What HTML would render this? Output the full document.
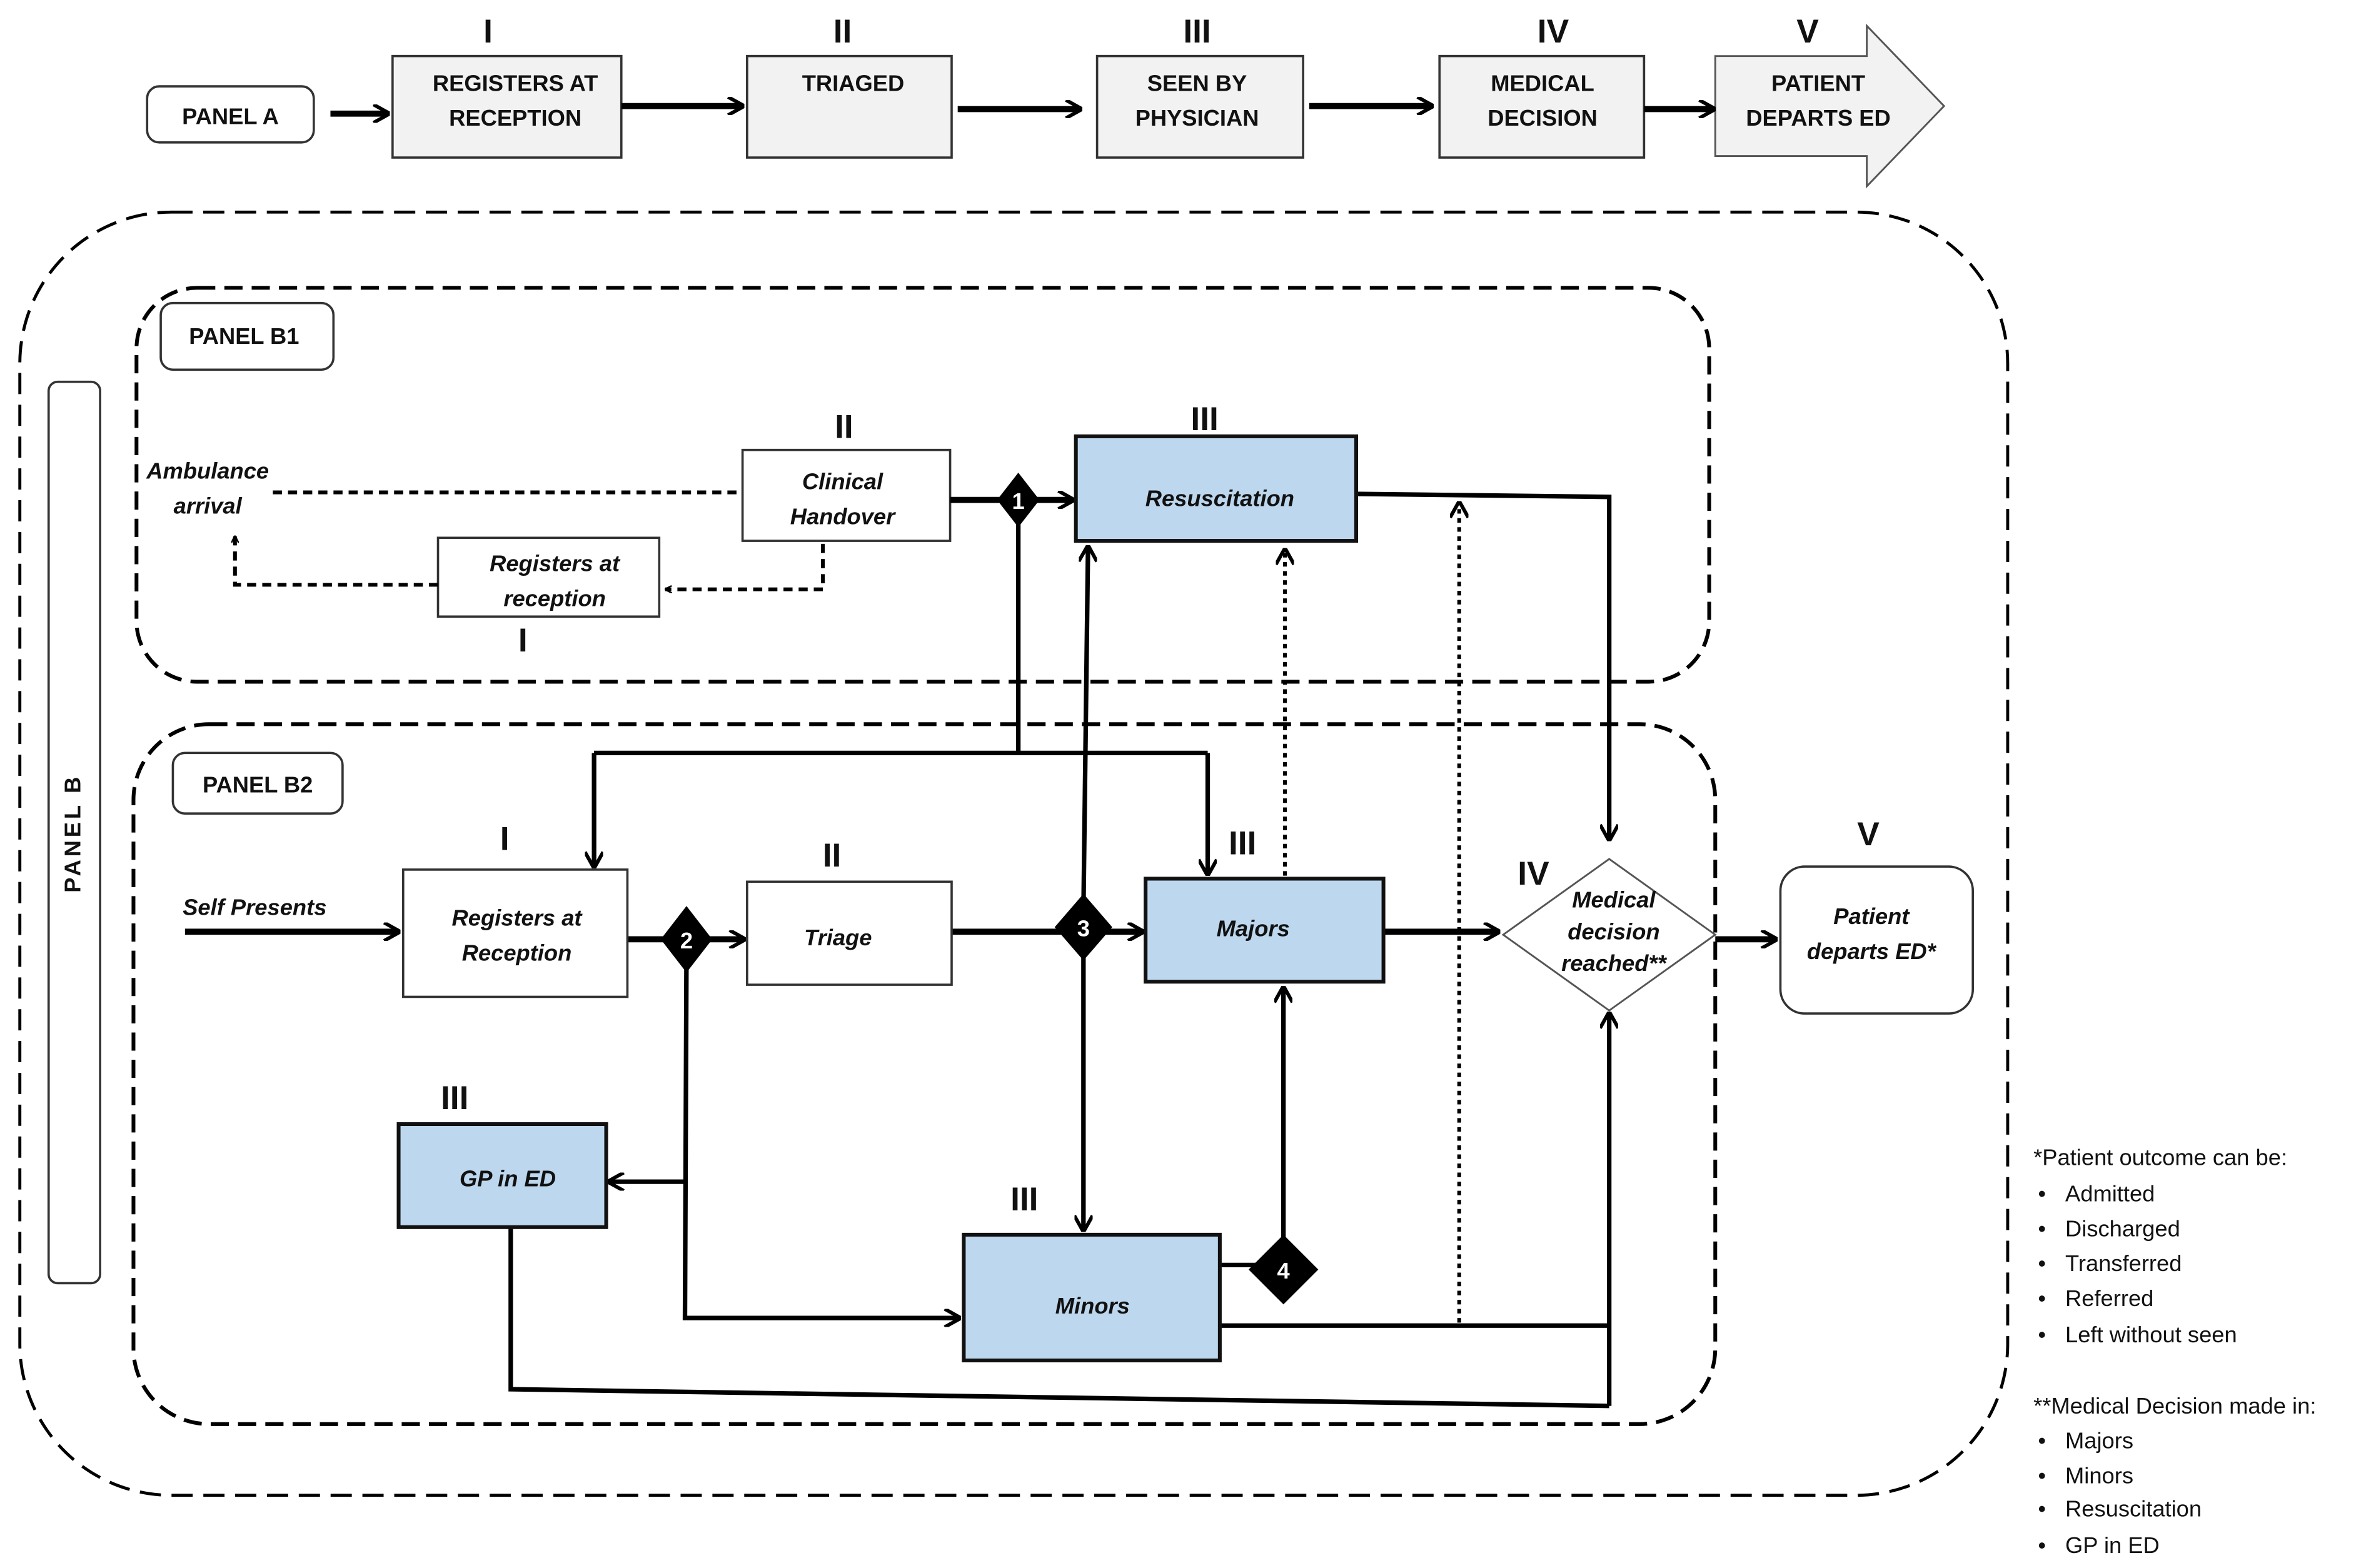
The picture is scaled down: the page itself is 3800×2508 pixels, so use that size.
<!DOCTYPE html>
<html><head><meta charset="utf-8"><style>
html,body{margin:0;padding:0;background:#fff}
svg{display:block}
text{font-family:"Liberation Sans",sans-serif;fill:#111}
.it{font-style:italic;font-weight:bold;font-size:15px}
.rn{font-size:22px;font-weight:bold}
.cap{font-size:15px;font-weight:bold}
</style></head><body>
<svg width="3800" height="2508" viewBox="0 0 1568 1035" xmlns="http://www.w3.org/2000/svg">
<defs>
<marker id="a" viewBox="0 0 10 10" refX="9" refY="5" markerWidth="5" markerHeight="5" orient="auto" markerUnits="userSpaceOnUse"><path d="M0,0 L10,5 L0,10" fill="none" stroke="#000" stroke-width="2"/></marker>
<marker id="b" viewBox="0 0 10 10" refX="9" refY="5" markerWidth="12" markerHeight="12" orient="auto" markerUnits="userSpaceOnUse"><path d="M1,0 L10,5 L1,10" fill="none" stroke="#000" stroke-width="2"/></marker>
</defs>
<rect width="1568" height="1035" fill="#fff"/>
<!-- Panel A -->
<g text-anchor="middle">
<text x="322" y="28" class="rn">I</text><text x="556" y="28" class="rn">II</text><text x="790" y="28" class="rn">III</text><text x="1025" y="28" class="rn">IV</text><text x="1193" y="28" class="rn" font-weight="normal">V</text>
<rect x="97" y="57" width="110" height="37" rx="8" fill="#fff" stroke="#333" stroke-width="1.5"/>
<text x="152" y="82" class="cap">PANEL A</text>
<rect x="259" y="37" width="151" height="67" fill="#f2f2f2" stroke="#333" stroke-width="1.5"/>
<text x="340" y="60" class="cap">REGISTERS  AT</text><text x="340" y="83" class="cap">RECEPTION</text>
<rect x="493" y="37" width="135" height="67" fill="#f2f2f2" stroke="#333" stroke-width="1.5"/>
<text x="563" y="60" class="cap">TRIAGED</text>
<rect x="724" y="37" width="136" height="67" fill="#f2f2f2" stroke="#333" stroke-width="1.5"/>
<text x="790" y="60" class="cap">SEEN BY</text><text x="790" y="83" class="cap">PHYSICIAN</text>
<rect x="950" y="37" width="135" height="67" fill="#f2f2f2" stroke="#333" stroke-width="1.5"/>
<text x="1018" y="60" class="cap">MEDICAL</text><text x="1018" y="83" class="cap">DECISION</text>
<path d="M1132,37 L1232,37 L1232,17 L1283,70 L1232,123 L1232,103 L1132,103 Z" fill="#f2f2f2" stroke="#555" stroke-width="1.2"/>
<text x="1200" y="60" class="cap">PATIENT</text><text x="1200" y="83" class="cap">DEPARTS ED</text>
</g>
<g stroke="#000" stroke-width="4" fill="none" marker-end="url(#b)">
<line x1="218" y1="75" x2="256" y2="75"/><line x1="410" y1="70" x2="490" y2="70"/><line x1="632" y1="72" x2="713" y2="72"/><line x1="864" y1="70" x2="945" y2="70"/><line x1="1085" y1="72" x2="1131" y2="72"/>
</g>
<!-- containers -->
<rect x="13" y="140" width="1312" height="847" rx="100" fill="none" stroke="#000" stroke-width="2" stroke-dasharray="14,7"/>
<rect x="32" y="252" width="34" height="595" rx="6" fill="#fff" stroke="#333" stroke-width="1.5"/>
<text x="0" y="0" transform="translate(53,550) rotate(-90)" text-anchor="middle" font-size="15" font-weight="bold" letter-spacing="2">PANEL B</text>
<rect x="90" y="190" width="1038" height="260" rx="40" fill="none" stroke="#000" stroke-width="2.5" stroke-dasharray="12,6"/>
<rect x="106" y="200" width="114" height="44" rx="8" fill="#fff" stroke="#333" stroke-width="1.5"/>
<text x="161" y="227" text-anchor="middle" class="cap">PANEL B1</text>
<rect x="88" y="478" width="1044" height="462" rx="50" fill="none" stroke="#000" stroke-width="2.5" stroke-dasharray="12,6"/>
<rect x="114" y="497" width="112" height="40" rx="8" fill="#fff" stroke="#333" stroke-width="1.5"/>
<text x="170" y="523" text-anchor="middle" class="cap">PANEL B2</text>
<!-- B1 -->
<g text-anchor="middle">
<text x="137" y="316" class="it">Ambulance</text><text x="137" y="339" class="it">arrival</text>
<text x="557" y="289" class="rn">II</text>
<rect x="490" y="297" width="137" height="60" fill="#fff" stroke="#333" stroke-width="1.5"/>
<text x="556" y="323" class="it">Clinical</text><text x="556" y="346" class="it">Handover</text>
<rect x="289" y="355" width="146" height="52" fill="#fff" stroke="#333" stroke-width="1.5"/>
<text x="366" y="377" class="it">Registers at</text><text x="366" y="400" class="it">reception</text>
<text x="345" y="430" class="rn">I</text>
<text x="795" y="284" class="rn">III</text>
</g>
<g stroke="#000" stroke-width="2.5" fill="none" stroke-dasharray="6,4">
<line x1="180" y1="325" x2="488" y2="325"/>
<polyline points="543,359 543,389 439,389" marker-end="url(#a)"/>
<polyline points="289,386 155,386 155,354" marker-end="url(#a)"/>
</g>
<g stroke="#000" stroke-width="2.5" fill="none" stroke-dasharray="3,3">
<line x1="963" y1="873" x2="963" y2="332" marker-end="url(#b)"/>
<line x1="848" y1="578" x2="848" y2="363" marker-end="url(#b)"/>
</g>
<!-- solid lines -->
<g stroke="#000" stroke-width="3" fill="none">
<line x1="627" y1="330" x2="708" y2="330" stroke-width="4" marker-end="url(#b)"/>
<polyline points="895,326 1062,328 1062,554" marker-end="url(#b)"/>
<polyline points="672,340 672,497"/>
<polyline points="392,497 797,497"/>
<line x1="392" y1="497" x2="392" y2="572" marker-end="url(#b)"/>
<line x1="797" y1="497" x2="797" y2="577" marker-end="url(#b)"/>
<line x1="715" y1="600" x2="718" y2="361" marker-end="url(#b)"/>
<line x1="122" y1="615" x2="263" y2="615" stroke-width="4" marker-end="url(#b)"/>
<line x1="414" y1="620" x2="491" y2="620" stroke-width="4" marker-end="url(#b)"/>
<line x1="628" y1="615" x2="754" y2="615" stroke-width="4" marker-end="url(#b)"/>
<line x1="913" y1="615" x2="989" y2="615" stroke-width="4" marker-end="url(#b)"/>
<line x1="1132" y1="620" x2="1172" y2="620" stroke-width="4" marker-end="url(#b)"/>
<polyline points="453,630 452,870 633,870" marker-end="url(#b)"/>
<line x1="452" y1="780" x2="402" y2="780" marker-end="url(#b)"/>
<line x1="715" y1="620" x2="715" y2="812" marker-end="url(#b)"/>
<line x1="805" y1="835" x2="840" y2="835"/>
<line x1="847" y1="830" x2="847" y2="652" marker-end="url(#b)"/>
<line x1="805" y1="875" x2="1062" y2="875"/>
<polyline points="337,810 337,917 1062,928"/>
<line x1="1062" y1="928" x2="1062" y2="669" marker-end="url(#b)"/>
</g>
<!-- B2 nodes -->
<g text-anchor="middle">
<text x="168" y="604" class="it">Self Presents</text>
<text x="333" y="561" class="rn">I</text>
<rect x="266" y="574" width="148" height="84" fill="#fff" stroke="#333" stroke-width="1.5"/>
<text x="341" y="611" class="it">Registers at</text><text x="341" y="634" class="it">Reception</text>
<text x="549" y="572" class="rn">II</text>
<rect x="493" y="582" width="135" height="68" fill="#fff" stroke="#333" stroke-width="1.5"/>
<text x="553" y="624" class="it">Triage</text>
<rect x="710" y="288" width="185" height="69" fill="#bdd7ee" stroke="#111" stroke-width="2.5"/>
<text x="805" y="334" class="it">Resuscitation</text>
<text x="820" y="564" class="rn">III</text>
<rect x="756" y="580" width="157" height="68" fill="#bdd7ee" stroke="#111" stroke-width="2.5"/>
<text x="827" y="618" class="it">Majors</text>
<text x="1012" y="584" class="rn">IV</text>
<polygon points="1062,567 1132,617 1062,667 992,617" fill="#fff" stroke="#555" stroke-width="1.2"/>
<text x="1065" y="599" class="it" font-size="14">Medical</text><text x="1065" y="620" class="it" font-size="14">decision</text><text x="1065" y="641" class="it" font-size="14">reached**</text>
<text x="1233" y="558" class="rn">V</text>
<rect x="1175" y="572" width="127" height="97" rx="16" fill="#fff" stroke="#333" stroke-width="1.5"/>
<text x="1235" y="610" class="it">Patient</text><text x="1235" y="633" class="it">departs ED*</text>
<text x="300" y="732" class="rn">III</text>
<rect x="263" y="742" width="137" height="68" fill="#bdd7ee" stroke="#111" stroke-width="2.5"/>
<text x="335" y="783" class="it">GP in ED</text>
<text x="676" y="799" class="rn">III</text>
<rect x="636" y="815" width="169" height="83" fill="#bdd7ee" stroke="#111" stroke-width="2.5"/>
<text x="721" y="867" class="it">Minors</text>
</g>
<!-- decision diamonds -->
<g fill="#000">
<polygon points="672,312 686,330 672,348 658,330"/>
<polygon points="453,598 470,620 453,642 436,620"/>
<polygon points="715,590 734,612 715,634 696,612"/>
<polygon points="847,815 870,838 847,861 824,838"/>
</g>
<g fill="#fff" text-anchor="middle" font-size="15" font-weight="bold">
<text x="672" y="336" style="fill:#fff">1</text>
<text x="453" y="626" style="fill:#fff">2</text>
<text x="715" y="618" style="fill:#fff">3</text>
<text x="847" y="844" style="fill:#fff">4</text>
</g>
<!-- legend -->
<g font-size="15">
<text x="1342" y="769">*Patient outcome  can be:</text>
<text x="1345" y="793">•</text><text x="1363" y="793">Admitted</text>
<text x="1345" y="816">•</text><text x="1363" y="816">Discharged</text>
<text x="1345" y="839">•</text><text x="1363" y="839">Transferred</text>
<text x="1345" y="862">•</text><text x="1363" y="862">Referred</text>
<text x="1345" y="886">•</text><text x="1363" y="886">Left  without seen</text>
<text x="1342" y="933">**Medical Decision made in:</text>
<text x="1345" y="956">•</text><text x="1363" y="956">Majors</text>
<text x="1345" y="979">•</text><text x="1363" y="979">Minors</text>
<text x="1345" y="1001">•</text><text x="1363" y="1001">Resuscitation</text>
<text x="1345" y="1025">•</text><text x="1363" y="1025">GP in ED</text>
</g>
</svg>
</body></html>
